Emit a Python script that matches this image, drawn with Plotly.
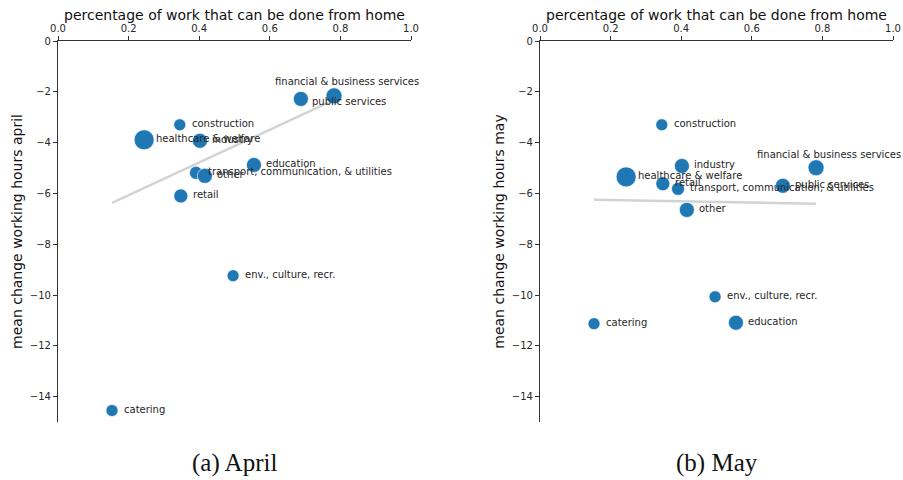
import plotly.graph_objects as go

sectors = ["financial & business services", "public services", "construction",
           "healthcare & welfare", "industry", "education",
           "transport, communication, & utilities", "other", "retail",
           "env., culture, recr.", "catering"]
wfh_share = [0.782, 0.688, 0.345, 0.244, 0.402, 0.555, 0.391, 0.416, 0.348, 0.496, 0.153]
hours_april = [-2.16, -2.28, -3.30, -3.89, -3.93, -4.88, -5.19, -5.31, -6.10, -9.24, -14.55]
hours_may = [-4.99, -5.70, -3.30, -5.35, -4.92, -11.09, -5.82, -6.65, -5.62, -10.07, -11.13]
marker_sizes = [16, 15, 12, 20, 15, 15, 13, 15, 14, 12, 12]

trend_x = [0.153, 0.782]
trend_april = [-6.37, -2.32]
trend_may = [-6.25, -6.41]

yticks = [0, -2, -4, -6, -8, -10, -12, -14]
xticks = [0.0, 0.2, 0.4, 0.6, 0.8, 1.0]
xtitle = "percentage of work that can be done from home"

# label offsets in px (dx, dy, anchor) per sector, per panel
offs_april = {"financial & business services": (13, 14, "center"),
              "public services": (9, -3, "left")}
offs_may = {"financial & business services": (13, 13, "center")}

BLUE = "#1f77b4"
TXT = "#262626"
FONT = "DejaVu Sans"

fig = go.Figure()
annotations = []

panels = [("x", "y", hours_april, trend_april, offs_april, "mean change working hours april",
           [58 / 903, 411 / 903], "(a) April"),
          ("x2", "y2", hours_may, trend_may, offs_may, "mean change working hours may",
           [540 / 903, 893 / 903], "(b) May")]

for xa, ya, hours, trend, offs, ytitle, dom, caption in panels:
    fig.add_trace(go.Scatter(x=trend_x, y=trend, mode="lines", xaxis=xa, yaxis=ya,
                             line=dict(color="#d3d3d3", width=2.5), hoverinfo="skip"))
    fig.add_trace(go.Scatter(x=wfh_share, y=hours, mode="markers", xaxis=xa, yaxis=ya,
                             marker=dict(color=BLUE, size=marker_sizes, opacity=1,
                                         line=dict(color="white", width=0.6)),
                             text=sectors, hoverinfo="text"))
    for s, xv, yv in zip(sectors, wfh_share, hours):
        dx, dy, anc = offs.get(s, (10, 1, "left"))
        annotations.append(dict(x=xv, y=yv, xref=xa, yref=ya, text=s, showarrow=False,
                                xanchor=anc, yanchor="middle", xshift=dx, yshift=dy,
                                font=dict(family=FONT, size=10, color=TXT)))
    # top x title placed by hand, sits just above the tick labels
    annotations.append(dict(x=(dom[0] + dom[1]) / 2, y=1 - 15 / 480, xref="paper", yref="paper",
                            text=xtitle, showarrow=False, xanchor="center", yanchor="middle",
                            font=dict(family=FONT, size=14, color="#111111")))
    annotations.append(dict(x=(dom[0] + dom[1]) / 2, y=17 / 480, xref="paper", yref="paper",
                            text=caption, showarrow=False, xanchor="center", yanchor="middle",
                            font=dict(family="Liberation Serif", size=25, color="#111111")))

axis_common = dict(showgrid=False, zeroline=False, showline=True, linecolor="#333333",
                   linewidth=1.2, ticks="outside", ticklen=4, tickwidth=1, tickcolor="#333333",
                   automargin=False,
                   tickfont=dict(family=FONT, size=10, color=TXT))

fig.update_layout(
    width=903, height=480, showlegend=False,
    plot_bgcolor="white", paper_bgcolor="white",
    margin=dict(l=0, r=0, t=0, b=0),
    annotations=annotations,
    xaxis=dict(axis_common, domain=panels[0][6], range=[0, 1], side="top", anchor="y",
               tickvals=xticks, tickformat=".1f"),
    yaxis=dict(axis_common, domain=[1 - 422 / 480, 1 - 41 / 480], range=[-15, 0], anchor="x",
               tickvals=yticks,
               title=dict(text=panels[0][5], standoff=3,
                          font=dict(family=FONT, size=14, color="#111111"))),
    xaxis2=dict(axis_common, domain=panels[1][6], range=[0, 1], side="top", anchor="y2",
                tickvals=xticks, tickformat=".1f"),
    yaxis2=dict(axis_common, domain=[1 - 422 / 480, 1 - 41 / 480], range=[-15, 0], anchor="x2",
                tickvals=yticks,
                title=dict(text=panels[1][5], standoff=3,
                           font=dict(family=FONT, size=14, color="#111111"))),
)

# page body has an 8px default margin; drop it so the figure fills the window
fig.write_html("out.html", config={"displayModeBar": False},
               post_script="document.body.style.margin='0';document.body.style.overflow='hidden';")
